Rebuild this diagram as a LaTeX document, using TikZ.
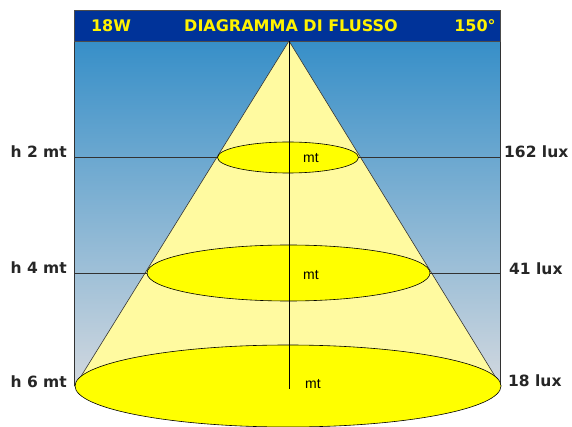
\documentclass[tikz,border=0pt]{standalone}
\usepackage{fontspec}
\setmainfont{DejaVu Sans}
\newfontfamily\mtfont{Liberation Sans}
\definecolor{titleblue}{RGB}{0,51,153}
\definecolor{skytop}{RGB}{55,143,200}
\definecolor{skybottom}{RGB}{210,216,223}
\definecolor{conefill}{RGB}{255,250,160}
\definecolor{spotfill}{RGB}{255,255,0}
\definecolor{framegray}{RGB}{50,50,50}
\tikzset{
  sidelabel/.style = {font=\fontsize{15.5}{18}\selectfont\bfseries, text=black!85, inner sep=0pt},
  titlelabel/.style = {font=\fontsize{16}{19}\selectfont\bfseries, text=yellow, inner sep=0pt},
  mtlabel/.style = {font=\mtfont\fontsize{14}{16}\selectfont, inner sep=0pt},
  spot/.style = {draw=black, fill=spotfill, line width=0.6pt},
}
\begin{document}
\begin{tikzpicture}[x=1pt,y=-1pt]
        \useasboundingbox (0,0) rectangle (572,427);
        \coordinate (apex)       at (289, 41);
        \coordinate (frametl)    at ( 74, 41);
        \coordinate (framebr)    at (500,386);
        \coordinate (baseleft)   at ( 75,386);
        \coordinate (baseright)  at (501,386);
        \coordinate (axisend)    at (289,389);
        \coordinate (ringone)    at (288,157.5);
        \coordinate (ringtwo)    at (288.5,273);
        \coordinate (ringthree)  at (288,386);
        \coordinate (lineoneL)   at ( 74,157.5);
        \coordinate (lineoneR)   at (500,157.5);
        \coordinate (linetwoL)   at ( 74,273);
        \coordinate (linetwoR)   at (500,273);
        \shade[top color=skytop, bottom color=skybottom] (frametl) rectangle (framebr);
        \draw[framegray, line width=0.9pt] (74,386) -- (frametl) -- (500,41) -- (framebr);
        \fill[titleblue] (74,10) rectangle (500,41);
        \draw[black!70, line width=0.6pt] (74,10) rectangle (500,41);
        \node[titlelabel] (watt)  at (111,26) {18W};
        \node[titlelabel] (title) at (291,26) {DIAGRAMMA DI FLUSSO};
        \node[titlelabel] (angle) at (475,26) {150°};
        \fill[conefill]     (apex) -- (baseleft) -- (baseright) -- cycle;
        \draw[black!80, line width=0.6pt] (baseleft) -- (apex) -- (baseright);
        \draw[framegray, line width=0.9pt] (lineoneL) -- (lineoneR);
        \draw[framegray, line width=0.9pt] (linetwoL) -- (linetwoR);
        \draw[spot] (ringone)   ellipse [x radius=70.5pt, y radius=15.5pt];
        \draw[spot] (ringtwo)   ellipse [x radius=141.5pt, y radius=28pt];
        \draw[spot] (ringthree) ellipse [x radius=213pt, y radius=41pt];
        \draw[black, line width=0.6pt] (apex) -- (axisend);
        \node[mtlabel] (mtone)   at (311,158) {mt};
        \node[mtlabel] (mttwo)   at (311,275) {mt};
        \node[mtlabel] (mtthree) at (313,384) {mt};
        \node[sidelabel, anchor=east] (hone)   at (67,152) {h 2 mt};
        \node[sidelabel, anchor=east] (htwo)   at (67,268) {h 4 mt};
        \node[sidelabel, anchor=east] (hthree) at (67,382) {h 6 mt};
        \node[sidelabel, anchor=west] (luxone)   at (504,152) {162 lux};
        \node[sidelabel, anchor=west] (luxtwo)   at (509,269) {41 lux};
        \node[sidelabel, anchor=west] (luxthree) at (508,381) {18 lux};
      \end{tikzpicture}
\end{document}
